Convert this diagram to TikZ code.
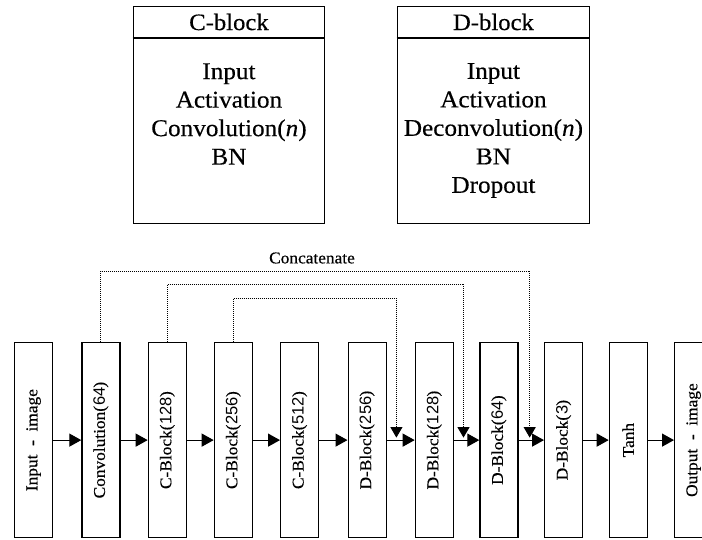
\documentclass[tikz,border=0pt]{standalone}
\usepackage{fontspec}
\setmainfont{Liberation Serif}[FakeStretch=1.05,FakeBold=0.4]
\newfontfamily\digfont{Liberation Sans}
\usetikzlibrary{arrows.meta,calc}
\newcommand\dg[1]{{\digfont #1}}
\begin{document}
\begin{tikzpicture}[x=1pt,y=-1pt,
  blk/.style={draw,line width=1.2pt,minimum width=38pt,minimum height=195pt,inner sep=0pt,anchor=north west,font=\fontsize{16.5}{18}\selectfont},
  flow/.style={line width=1.2pt,-{Triangle[length=12pt,width=13pt]}},
  skip/.style={line width=0.9pt,dash pattern=on 1pt off 1pt,-{Triangle[length=10.5pt,width=12pt]}},
  frame/.style={draw,line width=1.2pt,minimum height=216.7pt,inner sep=0pt,anchor=north west},
  headtxt/.style={font=\fontsize{23.5}{27}\selectfont},
  bodytxt/.style={align=center,font=\fontsize{24}{28.5}\selectfont},
  sep/.style={line width=2.6pt}]
\useasboundingbox (0,0) rectangle (702,540);
% top legend boxes
\node[frame,minimum width=191.3pt] (cb) at (132.7,6) {};
\draw[sep] ($(cb.north west)+(0,32)$) coordinate (cbl) -- ($(cb.north east)+(0,32)$) coordinate (cbr);
\node[headtxt] (cbh) at ($(cb.north)+(0,16)$) {C-block};
\node[bodytxt] (cbb) at ($(cb.north)+(0,108)$) {Input\\Activation\\Convolution(\textit{n})\\BN};
\node[frame,minimum width=192.3pt] (db) at (396.7,6) {};
\draw[sep] ($(db.north west)+(0,32)$) coordinate (dbl) -- ($(db.north east)+(0,32)$) coordinate (dbr);
\node[headtxt] (dbh) at ($(db.north)+(0,16)$) {D-block};
\node[bodytxt] (dbb) at ($(db.north)+(0,124.5)$) {Input\\Activation\\Deconvolution(\textit{n})\\BN\\Dropout};
% network
\node[blk] (in)   at (14,342)    {\rotatebox{90}{Input\ \ -\ \ image}};
\node[blk] (conv) at (81.3,342)  {\rotatebox{90}{Convolution(\dg{64})}};
\node[blk] (c128) at (147.7,342) {\rotatebox{90}{C-Block(\dg{128})}};
\node[blk] (c256) at (213.7,342) {\rotatebox{90}{C-Block(\dg{256})}};
\node[blk] (c512) at (280,342)   {\rotatebox{90}{C-Block(\dg{512})}};
\node[blk] (d256) at (347.5,342) {\rotatebox{90}{D-Block(\dg{256})}};
\node[blk] (d128) at (414.7,342) {\rotatebox{90}{D-Block(\dg{128})}};
\node[blk] (d64)  at (479.3,342) {\rotatebox{90}{D-Block(\dg{64})}};
\node[blk] (d3)   at (544,342)   {\rotatebox{90}{D-Block(\dg{3})}};
\node[blk] (tanh) at (608.7,342) {\rotatebox{90}{Tanh}};
\node[blk] (out)  at (674,342)   {\rotatebox{90}{Output\ \ -\ \ image}};
\foreach \a/\b in {in/conv,conv/c128,c128/c256,c256/c512,c512/d256,d256/d128,d128/d64,d64/d3,d3/tanh,tanh/out}
  \draw[flow] (\a.east) -- (\b.west);
% skip connections
\coordinate (t1) at ($(d256.east)+(9.7,-2.5)$);
\coordinate (t2) at ($(d128.east)+(9.6,-2.5)$);
\coordinate (t3) at ($(d64.east)+(11.2,-2.5)$);
\draw[skip] (conv.north) -- (conv.north |- 0,271) -- (t3 |- 0,271) -- (t3);
\draw[skip] (c128.north) -- (c128.north |- 0,284.3) -- (t2 |- 0,284.3) -- (t2);
\draw[skip] (c256.north) -- (c256.north |- 0,298.3) -- (t1 |- 0,298.3) -- (t1);
\node[font=\fontsize{16.5}{19}\selectfont] (cat) at (312,258) {Concatenate};
\end{tikzpicture}
\end{document}
